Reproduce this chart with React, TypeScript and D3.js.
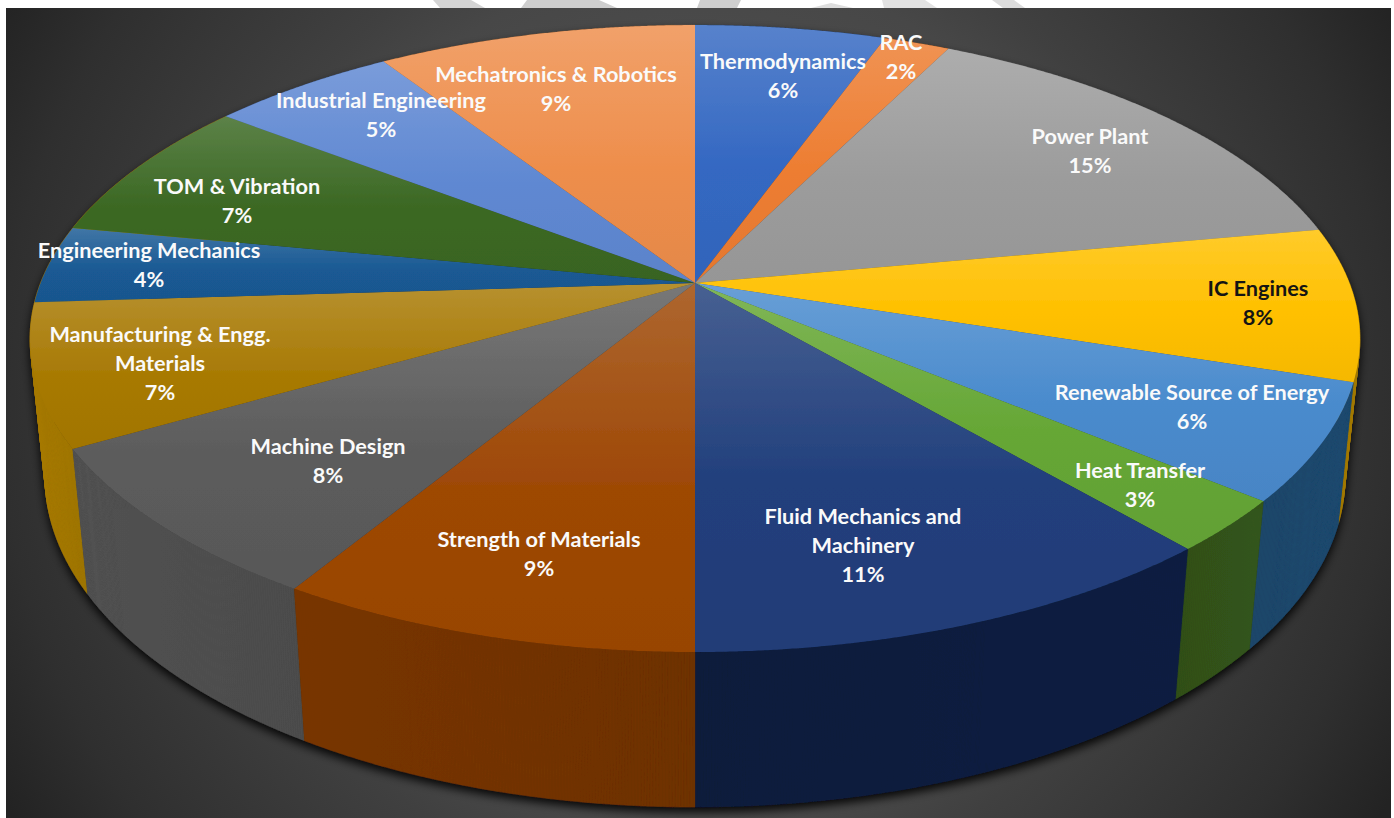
import React from "react";
import * as d3 from "d3";

// Subject shares of the paper, in percent, clockwise from twelve o'clock.
const subjects = [
  "Thermodynamics", "RAC", "Power Plant", "IC Engines", "Renewable Source of Energy",
  "Heat Transfer", "Fluid Mechanics and Machinery", "Strength of Materials", "Machine Design",
  "Manufacturing & Engg. Materials", "Engineering Mechanics", "TOM & Vibration",
  "Industrial Engineering", "Mechatronics & Robotics",
];
const shares = [5.5, 1.9, 14.7, 7.9, 6, 2.7, 11.3, 8.7, 8, 7.3, 4, 7.4, 5.4, 9.2];

const topColours = [
  "#3468c2", "#ed7d31", "#9c9c9c", "#ffc000", "#4a8bcd", "#66a736", "#213f7c",
  "#9e4806", "#5c5c5c", "#a87a05", "#1a5a94", "#3b6823", "#5f88d2", "#ee8e4c",
];
// The back-left wall only shows as a sliver beside the golden slice, so it carries that gold.
const wallColours = [
  "#24406f", "#8a4a1c", "#666666", "#a37b00", "#1f4a70", "#34551b", "#0e1f42",
  "#783500", "#525252", "#a67b00", "#a67b00", "#a67b00", "#3e5a8a", "#8f5a30",
];

// Line breaks and anchors for the captions: centre x, first baseline y.
const captionLines = [
  ["Thermodynamics"], ["RAC"], ["Power Plant"], ["IC Engines"], ["Renewable Source of Energy"],
  ["Heat Transfer"], ["Fluid Mechanics and", "Machinery"], ["Strength of Materials"], ["Machine Design"],
  ["Manufacturing & Engg.", "Materials"], ["Engineering Mechanics"], ["TOM & Vibration"],
  ["Industrial Engineering"], ["Mechatronics & Robotics"],
];
const captionAnchors = [
  [783, 69], [901, 50], [1090, 144], [1258, 296], [1192, 400], [1140, 478], [863, 524],
  [539, 547], [328, 454], [160, 342], [149, 258], [237, 194], [381, 108], [556, 82],
];
const darkCaptions = new Set(["IC Engines"]);

// Faint shapes crossing the white strip along the top edge.
const stripShapes = [
  { points: "433,0 471,0 485,8 440,8", fill: "#d4d4d4" },
  { points: "527,0 599,0 617,8 521,8", fill: "#cecece" },
  { points: "700,0 741,0 737,8 697,8", fill: "#cecece" },
  { points: "831,3 853,8 811,8", fill: "#dedede" },
  { points: "882,0 925,0 937,8 884,8", fill: "#e2e2e2" },
  { points: "992,0 1014,0 1025,8 1003,8", fill: "#dcdcdc" },
];

// Pinhole camera looking down on the disc.
const camera = { cx: 695, cy: 283, focal: 3272, radius: 0.2, cosTilt: 0.464, sinTilt: 0.886, depth: 0.048 };

function project(angle: number, drop: number): [number, number] {
  const { cx, cy, focal, radius, cosTilt, sinTilt } = camera;
  const u = Math.sin(angle);
  const v = -Math.cos(angle);
  const w = 1 - radius * sinTilt * v + drop * cosTilt;
  return [
    cx + (focal * radius * u) / w,
    cy + (focal * (radius * v * cosTilt + drop * sinTilt)) / w,
  ];
}

const line = d3.line();

function arcPoints(a0: number, a1: number, drop: number): [number, number][] {
  const steps = Math.max(2, Math.ceil((a1 - a0) / 0.004));
  return d3.range(steps + 1).map((i) => project(a0 + ((a1 - a0) * i) / steps, drop));
}

// The wall as one quad per arc step, so the ruled surface fills right out to its silhouette.
function wallPath(a0: number, a1: number): string {
  const upper = arcPoints(a0, a1, 0);
  const lower = arcPoints(a0, a1, camera.depth);
  return d3
    .range(upper.length - 1)
    .map((i) => line([upper[i], upper[i + 1], lower[i + 1], lower[i]]) + "Z")
    .join("");
}

const slices = d3
  .pie<number>()
  .sort(null)
  .startAngle(0)
  .endAngle(2 * Math.PI)(shares)
  .map((s, i) => ({ ...s, i, mid: (s.startAngle + s.endAngle) / 2 }));

const wallOrder = [...slices].sort((a, b) => -Math.cos(a.mid) - -Math.cos(b.mid));

const lighten = (c: string, t: number) => d3.interpolateRgb(c, "#ffffff")(t);
const shade = (c: string, t: number) => d3.interpolateRgb(c, "#000000")(t);

export default function App() {
  return (
    <svg
      width={1394}
      height={818}
      viewBox="0 0 1394 818"
      style={{ position: "fixed", left: 0, top: 0, background: "#ffffff" }}
    >
      <defs>
        <radialGradient id="backdrop" gradientUnits="userSpaceOnUse" cx={697} cy={400} r={800}>
          <stop offset="0" stopColor="#5c5c5c" />
          <stop offset="0.54" stopColor="#474747" />
          <stop offset="0.62" stopColor="#404040" />
          <stop offset="0.87" stopColor="#2f2f2f" />
          <stop offset="1" stopColor="#232323" />
        </radialGradient>
        <filter id="discShadow" x="-5%" y="-5%" width="110%" height="115%">
          <feDropShadow dx="0" dy="5" stdDeviation="5" floodColor="#000000" floodOpacity="0.9" />
        </filter>
        {slices.map((s) => (
          <linearGradient key={s.i} id={`top${s.i}`} x1="0" y1="0" x2="0" y2="1">
            <stop offset="0" stopColor={lighten(topColours[s.i], 0.17)} />
            <stop offset="0.55" stopColor={topColours[s.i]} />
            <stop offset="1" stopColor={shade(topColours[s.i], 0.04)} />
          </linearGradient>
        ))}
        {slices.map((s) => (
          <linearGradient key={s.i} id={`wall${s.i}`} x1="0" y1="0" x2="1" y2="0">
            <stop offset="0" stopColor={Math.sin(s.mid) < 0 ? wallColours[s.i] : shade(wallColours[s.i], 0.1)} />
            <stop offset="1" stopColor={Math.sin(s.mid) < 0 ? shade(wallColours[s.i], 0.1) : wallColours[s.i]} />
          </linearGradient>
        ))}
      </defs>

      {stripShapes.map((p) => (
        <polygon key={p.points} points={p.points} fill={p.fill} />
      ))}
      <rect x={6} y={8} width={1385} height={810} fill="url(#backdrop)" />

      <g filter="url(#discShadow)">
        {wallOrder.map((s) => (
          <path
            key={s.i}
            d={wallPath(s.startAngle, s.endAngle)}
            fill={`url(#wall${s.i})`}
            stroke={wallColours[s.i]}
            strokeWidth={0.3}
          />
        ))}
        {slices.map((s) => (
          <path
            key={s.i}
            d={line([[camera.cx, camera.cy], ...arcPoints(s.startAngle, s.endAngle, 0)]) + "Z"}
            fill={`url(#top${s.i})`}
          />
        ))}
      </g>

      {slices.map((s) => {
        const [x, y] = captionAnchors[s.i];
        const rows = [...captionLines[s.i], `${Math.round(shares[s.i])}%`];
        return (
          <text
            key={s.i}
            textAnchor="middle"
            fontFamily="Lato, 'Open Sans', sans-serif"
            fontWeight={700}
            fontSize={21.7}
            fill={darkCaptions.has(subjects[s.i]) ? "#141414" : "#fafafa"}
          >
            {rows.map((r, k) => (
              <tspan key={k} x={x} y={y + k * 29}>
                {r}
              </tspan>
            ))}
          </text>
        );
      })}
    </svg>
  );
}
